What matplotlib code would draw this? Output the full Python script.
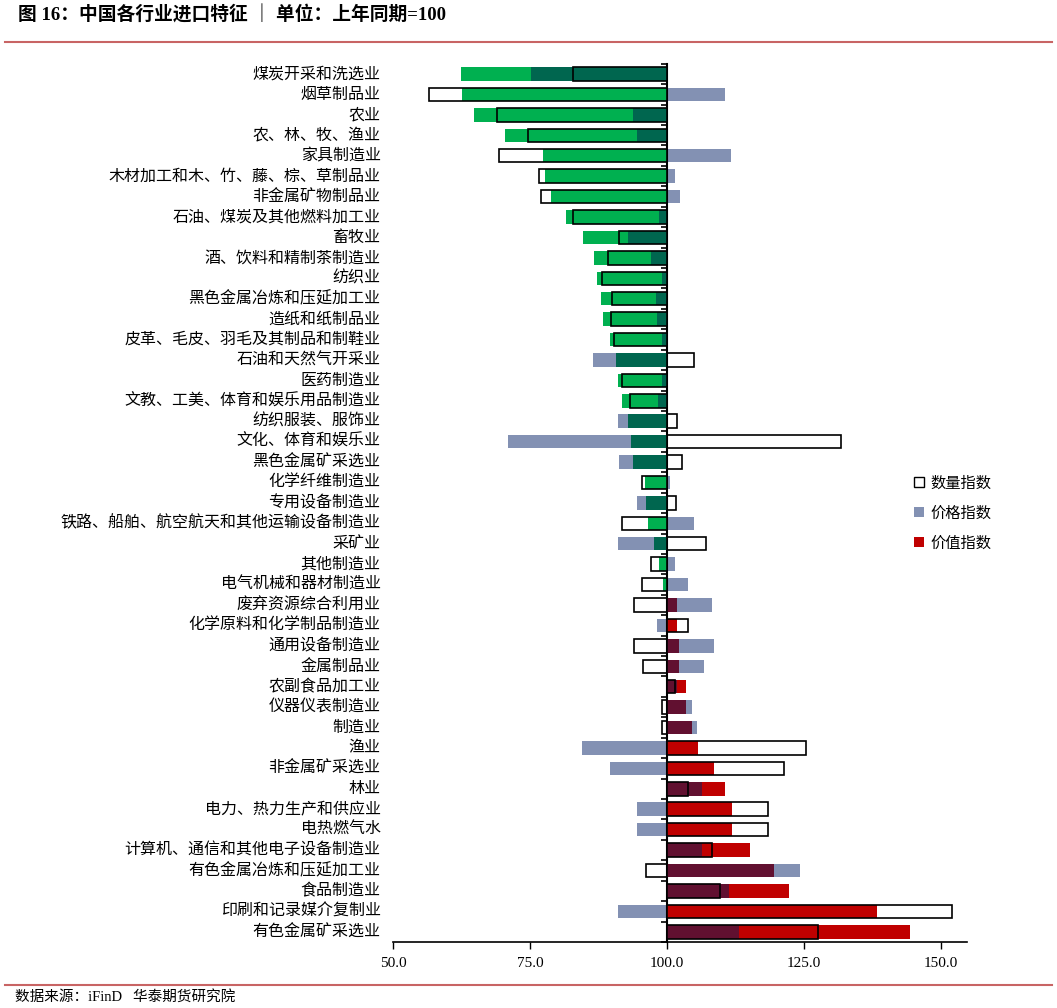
"""China imports by industry: quantity, price and value indices (last year = 100)."""

import numpy as np
import matplotlib
matplotlib.use('Agg')
import matplotlib.pyplot as plt
from matplotlib.patches import Patch
from matplotlib.lines import Line2D
from matplotlib.transforms import blended_transform_factory

plt.rcParams['font.family'] = ['Noto Sans CJK SC', 'DejaVu Sans']

# data (top to bottom)
categories = [
    '煤炭开采和洗选业', '烟草制品业', '农业', '农、林、牧、渔业', '家具制造业',
    '木材加工和木、竹、藤、棕、草制品业', '非金属矿物制品业', '石油、煤炭及其他燃料加工业',
    '畜牧业', '酒、饮料和精制茶制造业', '纺织业', '黑色金属冶炼和压延加工业',
    '造纸和纸制品业', '皮革、毛皮、羽毛及其制品和制鞋业', '石油和天然气开采业',
    '医药制造业', '文教、工美、体育和娱乐用品制造业', '纺织服装、服饰业',
    '文化、体育和娱乐业', '黑色金属矿采选业', '化学纤维制造业', '专用设备制造业',
    '铁路、船舶、航空航天和其他运输设备制造业', '采矿业', '其他制造业',
    '电气机械和器材制造业', '废弃资源综合利用业', '化学原料和化学制品制造业',
    '通用设备制造业', '金属制品业', '农副食品加工业', '仪器仪表制造业', '制造业',
    '渔业', '非金属矿采选业', '林业', '电力、热力生产和供应业', '电热燃气水',
    '计算机、通信和其他电子设备制造业', '有色金属冶炼和压延加工业', '食品制造业',
    '印刷和记录媒介复制业', '有色金属矿采选业',
]
value_idx = [62.3, 62.5, 64.7, 70.4, 77.4, 77.8, 78.8, 81.6, 84.7, 86.6, 87.2,
             88.0, 88.3, 89.6, 90.6, 91.0, 91.7, 92.8, 93.5, 93.7, 95.9, 96.2,
             96.5, 97.6, 98.5, 99.2, 101.8, 101.9, 102.2, 102.2, 103.4, 103.5,
             104.6, 105.7, 108.6, 110.5, 111.9, 111.9, 115.1, 119.5, 122.3,
             138.4, 144.3]
price_idx = [75.2, 110.6, 93.8, 94.5, 111.6, 101.4, 102.4, 98.5, 92.9, 97.0,
             99.0, 97.9, 98.2, 99.1, 86.4, 99.1, 98.4, 91.1, 70.9, 91.2, 100.5,
             94.6, 105.0, 91.1, 101.4, 103.8, 108.3, 98.2, 108.6, 106.8, 101.9,
             104.6, 105.5, 84.4, 89.6, 106.4, 94.5, 94.5, 106.4, 124.3, 111.4,
             91.1, 113.2]
qty_idx = [82.9, 56.5, 68.9, 74.6, 69.3, 76.7, 77.0, 82.8, 91.2, 89.3, 88.2,
           90.0, 89.8, 90.4, 104.9, 91.8, 93.2, 101.9, 131.8, 102.7, 95.5,
           101.6, 91.8, 107.1, 97.0, 95.5, 94.0, 103.9, 94.0, 95.6, 101.5,
           99.0, 99.0, 125.4, 121.3, 103.8, 118.5, 118.5, 108.2, 96.1, 109.7,
           152.1, 127.6]

BASE = 100.0
C_PRICE = '#8391B3'
C_GREEN = '#00B050'
C_RED = '#C00000'
C_TEAL = '#00664F'
C_MAROON = '#611030'

value = np.asarray(value_idx)
price = np.asarray(price_idx)
qty = np.asarray(qty_idx)
y = np.arange(len(categories))

# part of value bar shared with price bar (same side of 100)
same_side = (value - BASE) * (price - BASE) > 0
overlap = np.where(same_side,
                   np.sign(value - BASE) * np.minimum(abs(value - BASE), abs(price - BASE)),
                   0.0)
val_colors = np.where(value < BASE, C_GREEN, C_RED)
ov_colors = np.where(value < BASE, C_TEAL, C_MAROON)

fig = plt.figure(figsize=(10.57, 10.08), dpi=100)
ax = fig.add_axes([0.372, 0.0655, 0.543, 0.8712])

h = 0.66
ax.barh(y, price - BASE, left=BASE, height=h, color=C_PRICE, zorder=2)
ax.barh(y, value - BASE, left=BASE, height=h, color=val_colors, zorder=3)
ax.barh(y, overlap, left=BASE, height=h, color=ov_colors, zorder=4)
ax.barh(y, qty - BASE, left=BASE, height=h, facecolor='none',
        edgecolor='black', linewidth=1.2, zorder=5)

ax.set_xlim(50, 154.8)
ax.set_ylim(len(categories) - 0.5, -0.5)
ax.set_xticks([50, 75, 100, 125, 150])
ax.set_xticklabels([f'{v:.1f}' for v in [50, 75, 100, 125, 150]],
                   family=['Liberation Serif', 'DejaVu Serif'], fontsize=11)
ax.tick_params(axis='x', direction='out', length=5, width=1, pad=6)

# y axis sits at 100, with ticks between categories
ax.spines['left'].set_position(('data', BASE))
ax.spines['left'].set_linewidth(1.5)
ax.spines['bottom'].set_linewidth(1.2)
ax.spines['top'].set_visible(False)
ax.spines['right'].set_visible(False)
ax.set_yticks([])
ax.set_yticks(np.arange(-0.5, len(categories), 1), minor=True)
ax.tick_params(axis='y', which='minor', direction='out', length=4, width=1.2,
               labelleft=False)

trans = blended_transform_factory(ax.transAxes, ax.transData)
for yi, name in zip(y, categories):
    ax.text(-0.022, yi, name, transform=trans, ha='right', va='center', fontsize=11.5)

handles = [Patch(facecolor='white', edgecolor='black', linewidth=1.0),
           Patch(facecolor=C_PRICE), Patch(facecolor=C_RED)]
fig.legend(handles, ['数量指数', '价格指数', '价值指数'], loc='upper left',
           bbox_to_anchor=(0.852, 0.543), frameon=False, fontsize=11,
           handlelength=0.65, handleheight=0.65, handletextpad=0.4,
           labelspacing=0.85)

fig.text(0.017, 1 - 15 / 1008, '图 16：中国各行业进口特征 ｜ 单位：上年同期=100',
         family=['Liberation Serif', 'Noto Sans CJK SC'], fontweight='bold',
         fontsize=13.5, ha='left', va='center')
fig.add_artist(Line2D([0.005, 0.995], [1 - 42 / 1008] * 2, color='#C86464', lw=1.5))
fig.add_artist(Line2D([0.005, 0.995], [1 - 985 / 1008] * 2, color='#C86464', lw=1.5))
fig.text(0.014, 1 - 997 / 1008, '数据来源：iFinD   华泰期货研究院',
         family=['Liberation Serif', 'Noto Sans CJK SC'], fontsize=10.5,
         ha='left', va='center')

fig.savefig('out.png', dpi=100)
plt.close(fig)
